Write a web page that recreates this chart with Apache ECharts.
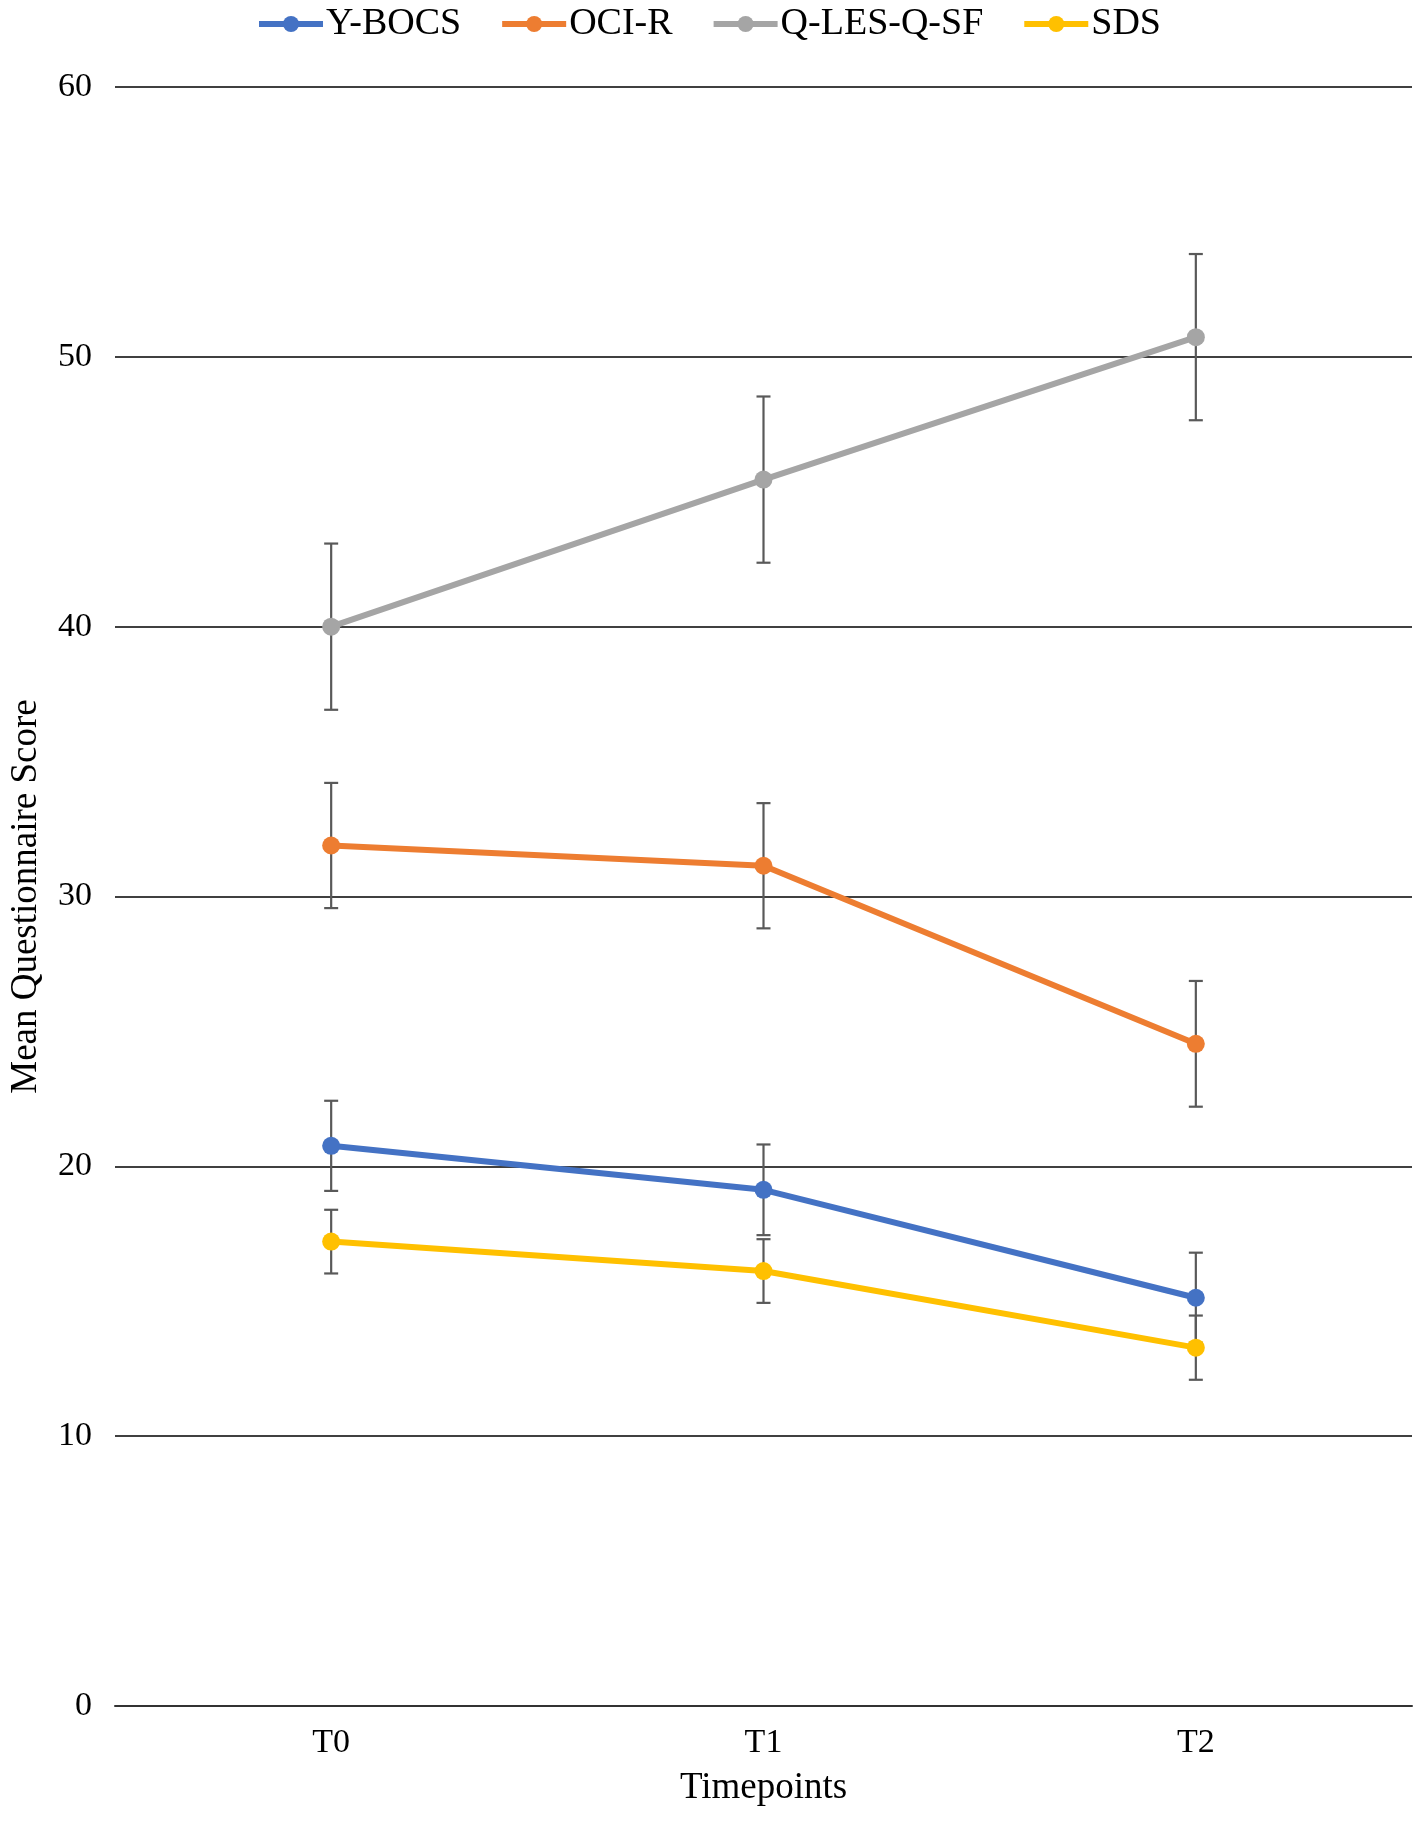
<!DOCTYPE html>
<html>
<head>
<meta charset="utf-8">
<title>Mean Questionnaire Score</title>
<script src="https://cdn.jsdelivr.net/npm/echarts@6/dist/echarts.min.js"></script>
<style>
  html, body { margin: 0; padding: 0; background: #fff; }
  #chart { width: 1417px; height: 1823px; }
</style>
</head>
<body>
<div id="chart"></div>
<script>
// timepoints on the x axis
var timepoints = ['T0', 'T1', 'T2'];
var yTicks = [0, 10, 20, 30, 40, 50, 60];

// mean scores
var ybocs = [20.76, 19.13, 15.13];
var ocir = [31.89, 31.14, 24.54];
var qles = [40.0, 45.45, 50.73];
var sds = [17.21, 16.12, 13.28];

// error bar half-lengths
var ybocsErr = [1.67, 1.68, 1.67];
var ocirErr = [2.32, 2.32, 2.33];
var qlesErr = [3.08, 3.08, 3.08];
var sdsErr = [1.18, 1.18, 1.19];

var names = ['Y-BOCS', 'OCI-R', 'Q-LES-Q-SF', 'SDS'];
var colors = ['#4472C4', '#ED7D31', '#A5A5A5', '#FFC000'];
var means = [ybocs, ocir, qles, sds];
var errs = [ybocsErr, ocirErr, qlesErr, sdsErr];

var FONT = '"Liberation Serif", "Times New Roman", serif';

function errData(m, e) {
    var out = [];
    for (var i = 0; i < m.length; i++) {
        out.push([i, m[i] - e[i], m[i] + e[i]]);
    }
    return out;
}

function renderErr(params, api) {
    var lo = api.coord([api.value(0), api.value(1)]);
    var hi = api.coord([api.value(0), api.value(2)]);
    var cap = 7;
    var style = { stroke: '#595959', lineWidth: 2.2 };
    return {
        type: 'group',
        children: [
            { type: 'line', shape: { x1: lo[0], y1: lo[1], x2: hi[0], y2: hi[1] }, style: style },
            { type: 'line', shape: { x1: lo[0] - cap, y1: lo[1], x2: lo[0] + cap, y2: lo[1] }, style: style },
            { type: 'line', shape: { x1: hi[0] - cap, y1: hi[1], x2: hi[0] + cap, y2: hi[1] }, style: style }
        ]
    };
}

var series = [];
// error bars first, under the lines
for (var i = 0; i < names.length; i++) {
    series.push({
        type: 'custom',
        name: names[i] + ' err',
        renderItem: renderErr,
        data: errData(means[i], errs[i]),
        z: 1,
        silent: true
    });
}
for (var i = 0; i < names.length; i++) {
    series.push({
        type: 'line',
        name: names[i],
        data: means[i],
        symbol: 'circle',
        symbolSize: 18,
        color: colors[i],
        lineStyle: { width: 6, color: colors[i] },
        itemStyle: { color: colors[i] },
        z: 3
    });
}

var chart = echarts.init(document.getElementById('chart'), null, { renderer: 'canvas' });

var option = {
    animation: false,
    backgroundColor: '#fff',
    textStyle: { fontFamily: FONT, color: '#000' },
    legend: {
        data: names,
        top: 0,
        left: 'center',
        itemWidth: 64,
        itemHeight: 20,
        itemGap: 38,
        lineStyle: { width: 6 },
        textStyle: { fontFamily: FONT, fontSize: 38, color: '#000', padding: [0, 0, 0, -2] }
    },
    grid: { left: 113, right: 5, top: 87, bottom: 117, containLabel: false },
    xAxis: {
        type: 'category',
        data: timepoints,
        boundaryGap: true,
        name: 'Timepoints',
        nameLocation: 'middle',
        nameGap: 64,
        nameTextStyle: { fontFamily: FONT, fontSize: 37, color: '#000' },
        axisLine: { lineStyle: { color: '#333', width: 2 } },
        axisTick: { show: false },
        axisLabel: { fontFamily: FONT, fontSize: 34, color: '#000', margin: 20 }
    },
    yAxis: {
        type: 'value',
        min: yTicks[0],
        max: yTicks[yTicks.length - 1],
        interval: 10,
        name: 'Mean Questionnaire Score',
        nameLocation: 'middle',
        nameGap: 70,
        nameTextStyle: { fontFamily: FONT, fontSize: 37, color: '#000' },
        axisLine: { show: false },
        axisTick: { show: false },
        axisLabel: { fontFamily: FONT, fontSize: 34, color: '#000', margin: 23 },
        splitLine: { lineStyle: { color: '#000', width: 1.5 } }
    },
    series: series
};

chart.setOption(option);
</script>
</body>
</html>
